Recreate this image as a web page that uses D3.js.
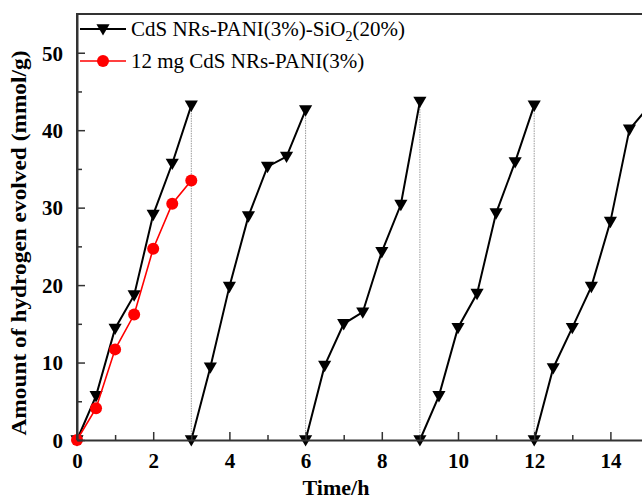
<!DOCTYPE html>
<html>
<head>
<meta charset="utf-8">
<script src="https://cdn.jsdelivr.net/npm/d3@7"></script>
<style>
  body { margin: 0; background: #fff; }
  svg { display: block; }
</style>
</head>
<body>
<div id="vis"></div>
<script>
// Frame constants
const FRAME_WIDTH = 642;
const FRAME_HEIGHT = 501;
const MARGINS = {left: 77, top: 14, bottom: 61};

// Data (time in h, hydrogen in mmol/g)
const cycleTimes = [
  [0, 0.5, 1, 1.5, 2, 2.5, 3],
  [3, 3.5, 4, 4.5, 5, 5.5, 6],
  [6, 6.5, 7, 7.5, 8, 8.5, 9],
  [9, 9.5, 10, 10.5, 11, 11.5, 12],
  [12, 12.5, 13, 13.5, 14, 14.5, 15]
];
const cycleValues = [
  [0, 5.7, 14.4, 18.7, 29.1, 35.7, 43.2],
  [0, 9.4, 19.8, 28.9, 35.3, 36.6, 42.6],
  [0, 9.6, 15.0, 16.5, 24.3, 30.4, 43.7],
  [0, 5.7, 14.5, 18.9, 29.3, 35.9, 43.2],
  [0, 9.3, 14.5, 19.8, 28.2, 40.1, 43.0]
];
const redTimes = [0, 0.5, 1, 1.5, 2, 2.5, 3];
const redValues = [0, 4.1, 11.7, 16.2, 24.7, 30.5, 33.5];

const xMajorTicks = [0, 2, 4, 6, 8, 10, 12, 14];
const xMinorTicks = [1, 3, 5, 7, 9, 11, 13, 15];
const yMajorTicks = [0, 10, 20, 30, 40, 50];
const yMinorTicks = [5, 15, 25, 35, 45];

const legendLabels = ["CdS NRs-PANI(3%)-SiO", "12 mg CdS NRs-PANI(3%)"];

// Scales
const X_SCALE = d3.scaleLinear().domain([0, 16]).range([MARGINS.left, MARGINS.left + 16 * 38.1]);
const Y_SCALE = d3.scaleLinear().domain([0, 55]).range([FRAME_HEIGHT - MARGINS.bottom, MARGINS.top]);

const FRAME = d3.select("#vis")
  .append("svg")
    .attr("width", FRAME_WIDTH)
    .attr("height", FRAME_HEIGHT)
    .style("font-family", "'Liberation Serif', 'Times New Roman', serif");

const x0 = X_SCALE(0), y0 = Y_SCALE(0), yTop = Y_SCALE(55), xRight = X_SCALE(16);

// Dotted drop lines between cycles
FRAME.selectAll(".drop")
  .data(cycleTimes.slice(0, 4).map((t, i) => ({x: t[t.length - 1], y: cycleValues[i][t.length - 1]})))
  .enter()
  .append("line")
    .attr("x1", d => X_SCALE(d.x)).attr("x2", d => X_SCALE(d.x))
    .attr("y1", d => Y_SCALE(d.y)).attr("y2", y0)
    .attr("stroke", "#999")
    .attr("stroke-width", 1)
    .attr("stroke-dasharray", "1.5,1");

const line = d3.line().x(d => X_SCALE(d[0])).y(d => Y_SCALE(d[1]));
const tri = d3.symbol().type(d3.symbolTriangle).size(75);

// Black cycles
cycleTimes.forEach((times, i) => {
  const pts = times.map((t, j) => [t, cycleValues[i][j]]);
  FRAME.append("path")
    .datum(pts)
    .attr("d", line)
    .attr("fill", "none")
    .attr("stroke", "#000")
    .attr("stroke-width", 2);
  FRAME.selectAll(".tri" + i)
    .data(pts)
    .enter()
    .append("path")
      .attr("d", tri)
      .attr("transform", d => "translate(" + X_SCALE(d[0]) + "," + (Y_SCALE(d[1]) - 1) + ") rotate(180)")
      .attr("fill", "#000");
});

// Red series
const redPts = redTimes.map((t, j) => [t, redValues[j]]);
FRAME.append("path")
  .datum(redPts)
  .attr("d", line)
  .attr("fill", "none")
  .attr("stroke", "#f00")
  .attr("stroke-width", 1.6);
FRAME.selectAll(".dot")
  .data(redPts)
  .enter()
  .append("circle")
    .attr("cx", d => X_SCALE(d[0]))
    .attr("cy", d => Y_SCALE(d[1]))
    .attr("r", 6)
    .attr("fill", "#f00");

// Frame lines
FRAME.append("path")
  .attr("d", "M" + x0 + "," + y0 + "V" + yTop + "H" + (xRight))
  .attr("fill", "none")
  .attr("stroke", "#333")
  .attr("stroke-width", 2);

// Axes
const xAxis = FRAME.append("g")
  .attr("transform", "translate(0," + y0 + ")")
  .call(d3.axisBottom(X_SCALE).tickValues(xMajorTicks).tickSizeInner(-8).tickSizeOuter(0).tickPadding(14));
FRAME.append("g")
  .attr("transform", "translate(0," + y0 + ")")
  .call(d3.axisBottom(X_SCALE).tickValues(xMinorTicks).tickSizeInner(-5).tickSizeOuter(0).tickFormat(""))
  .select(".domain").remove();

const yAxis = FRAME.append("g")
  .attr("transform", "translate(" + x0 + ",0)")
  .call(d3.axisLeft(Y_SCALE).tickValues(yMajorTicks).tickSizeInner(-8).tickSizeOuter(0).tickPadding(14));
FRAME.append("g")
  .attr("transform", "translate(" + x0 + ",0)")
  .call(d3.axisLeft(Y_SCALE).tickValues(yMinorTicks).tickSizeInner(-5).tickSizeOuter(0).tickFormat(""))
  .select(".domain").remove();

FRAME.selectAll(".tick line").attr("stroke", "#333").attr("stroke-width", 1.5);
FRAME.selectAll(".domain").attr("stroke", "#333").attr("stroke-width", 2);
[xAxis, yAxis].forEach(g => g.selectAll("text")
  .attr("font-family", "'Liberation Serif', 'Times New Roman', serif")
  .attr("font-size", "21px")
  .attr("font-weight", "bold")
  .attr("fill", "#000"));
xAxis.selectAll("text").attr("dy", "0.68em");
yAxis.selectAll("text").attr("dy", "0.35em");

// Axis titles
FRAME.append("text")
  .attr("x", 336)
  .attr("y", 495)
  .attr("text-anchor", "middle")
  .attr("font-size", "22px")
  .attr("font-weight", "bold")
  .text("Time/h");

FRAME.append("text")
  .attr("transform", "translate(26,243) rotate(-90)")
  .attr("text-anchor", "middle")
  .attr("font-size", "20px")
  .attr("font-weight", "bold")
  .attr("textLength", 385)
  .attr("lengthAdjust", "spacingAndGlyphs")
  .text("Amount of hydrogen evolved (mmol/g)");

// Legend
const LEG = FRAME.append("g");
const legY = [29, 61];
LEG.append("line").attr("x1", 80).attr("x2", 126).attr("y1", legY[0]).attr("y2", legY[0])
  .attr("stroke", "#000").attr("stroke-width", 2);
LEG.append("path").attr("d", tri).attr("fill", "#000")
  .attr("transform", "translate(103," + (legY[0] - 1) + ") rotate(180)");
LEG.append("line").attr("x1", 80).attr("x2", 126).attr("y1", legY[1]).attr("y2", legY[1])
  .attr("stroke", "#f00").attr("stroke-width", 1.6);
LEG.append("circle").attr("cx", 103).attr("cy", legY[1]).attr("r", 6).attr("fill", "#f00");

const t1 = LEG.append("text").attr("x", 131).attr("y", legY[0]).attr("dy", "0.35em")
  .attr("font-size", "21px");
t1.append("tspan").text(legendLabels[0]);
t1.append("tspan").attr("font-size", "14px").attr("dy", "5").text("2");
t1.append("tspan").attr("dy", "-5").text("(20%)");

LEG.append("text").attr("x", 131).attr("y", legY[1]).attr("dy", "0.35em")
  .attr("font-size", "21px")
  .text(legendLabels[1]);
</script>
</body>
</html>
